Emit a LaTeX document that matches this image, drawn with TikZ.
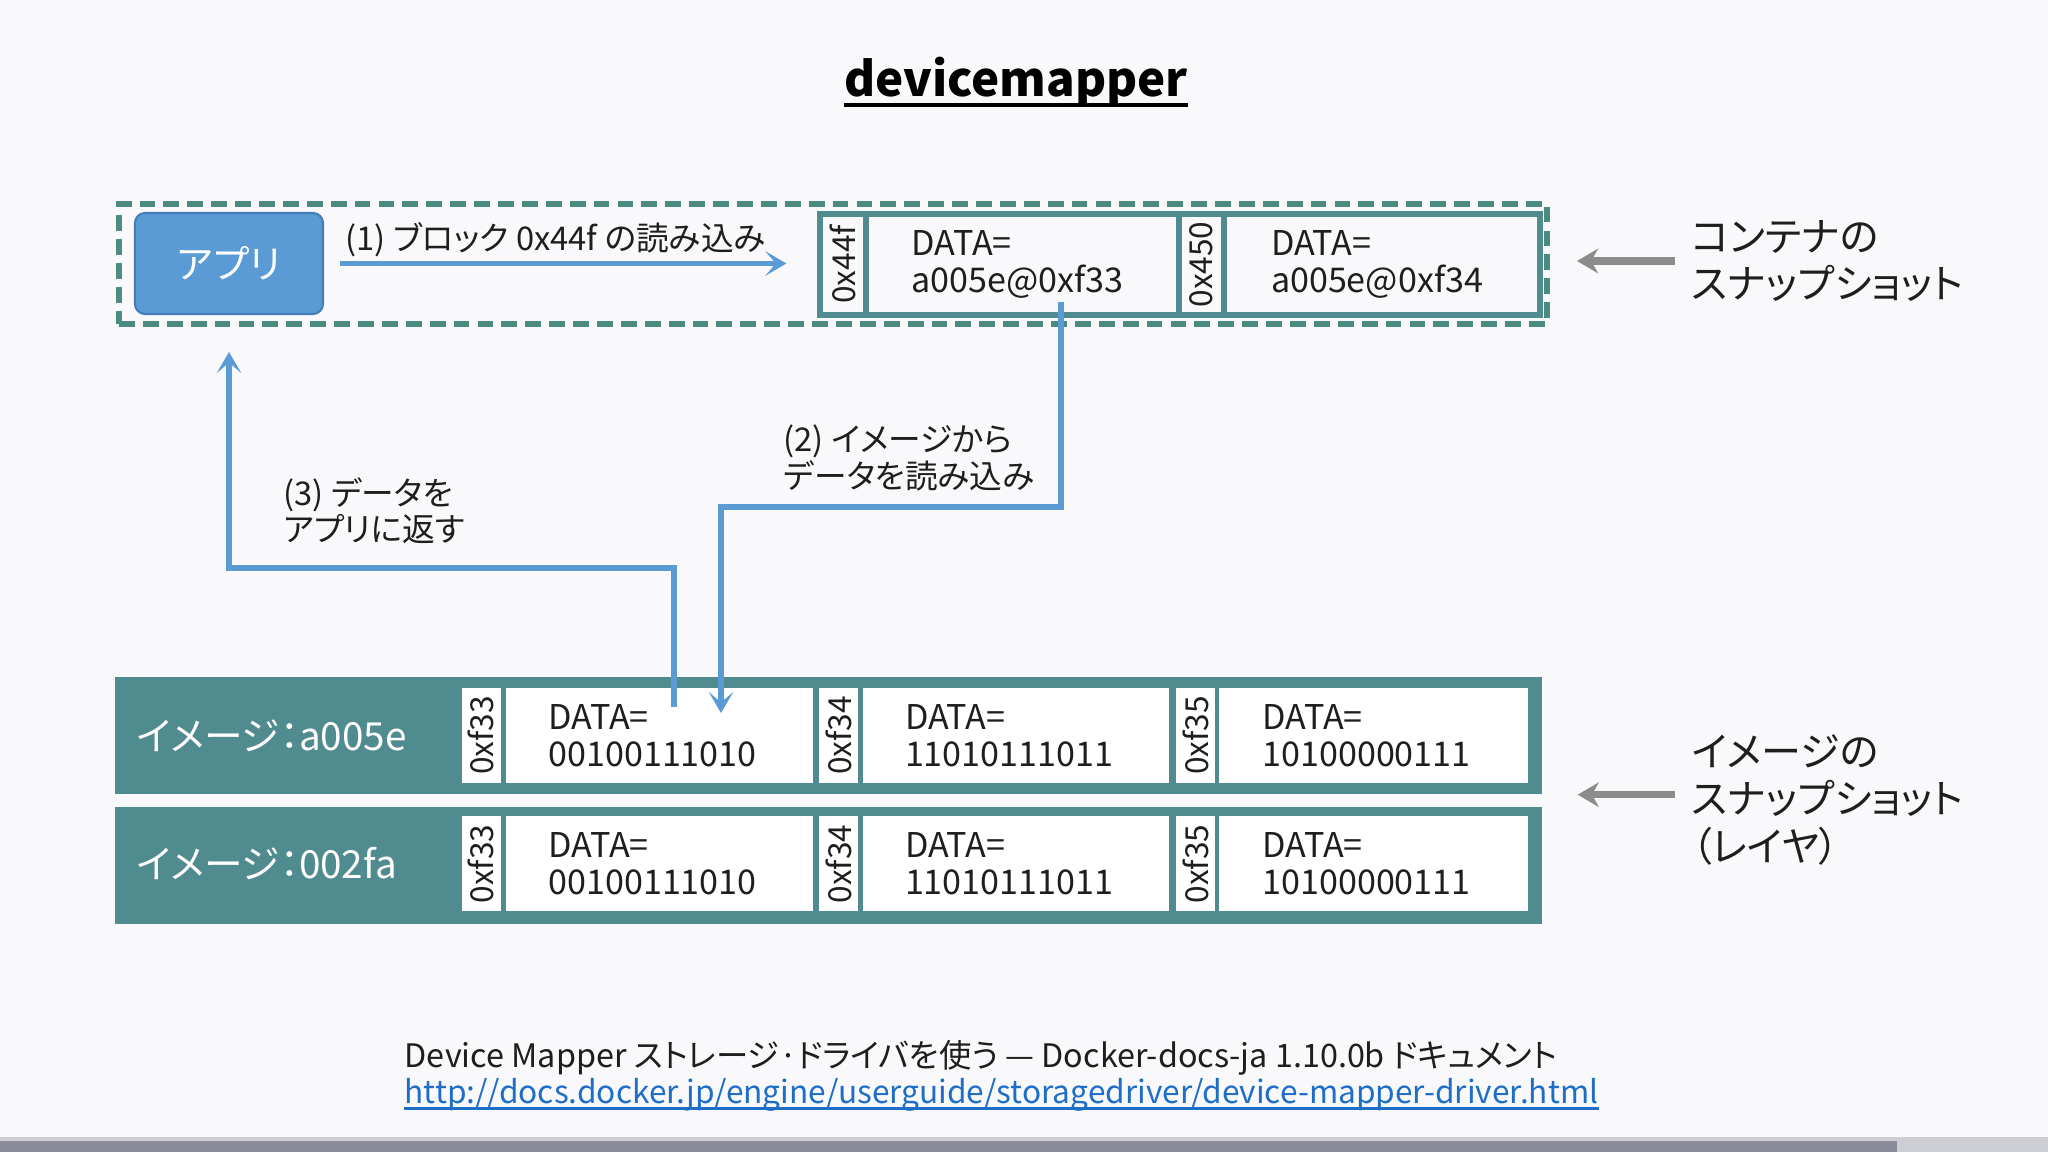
\documentclass[tikz,border=0pt]{standalone}
\usepackage{fontspec}
\setmainfont{Noto Sans CJK JP}[RawFeature=+palt]
\usetikzlibrary{arrows.meta, positioning}

\definecolor{bgc}{RGB}{249,249,251}
\definecolor{tealrow}{RGB}{80,139,143}
\definecolor{tealdash}{RGB}{76,140,128}
\definecolor{appblue}{RGB}{91,155,213}
\definecolor{appedge}{RGB}{70,125,185}
\definecolor{linkblue}{RGB}{30,110,200}
\definecolor{txt}{RGB}{30,30,30}
\definecolor{bardark}{RGB}{138,138,152}
\definecolor{barlight}{RGB}{205,205,212}

\tikzset{
  addr/.style={rotate=90, inner sep=0pt, font=\fontsize{9}{10}\selectfont, text=txt},
  datacell/.style={inner sep=0pt, text width=22.2mm, align=left, font=\fontsize{9.7}{10.6}\selectfont, text=txt},
  cbord/.style={draw=tealrow, line width=1.5pt},
  icell/.style={fill=white, minimum height=9.5mm},
  imgrow/.style={fill=tealrow, inner sep=0pt, minimum width=142.7mm, minimum height=11.7mm},
  rowlabel/.style={anchor=west, inner sep=0pt, text=white, font=\fontsize{11}{13}\selectfont},
  note/.style={anchor=west, align=left, inner sep=0pt, text=txt, font=\fontsize{9.3}{10.3}\selectfont},
  snaplabel/.style={anchor=west, align=left, inner sep=0pt, text=txt, font=\fontsize{11.4}{13.4}\selectfont},
  flow/.style={draw=appblue, line width=1.6pt, -{Stealth[length=6pt,width=7pt,inset=3pt]}},
  snap/.style={draw=gray!90, line width=2pt, -{Stealth[length=6pt,width=7pt]}},
}

\begin{document}
\begin{tikzpicture}[x=0.1mm, y=-0.1mm]
  \fill[bgc] (0,0) rectangle (2048,1152);
  \useasboundingbox (0,0) rectangle (2048,1152);

  \node[anchor=base, inner sep=0pt, font=\fontsize{13.5}{16}\selectfont\bfseries] (title) at (1016,97) {devicemapper};
  \draw[line width=1pt] ([yshift=-0.8mm]title.base west) -- ([yshift=-0.8mm]title.base east);

  % container snapshot
  \node[draw=tealdash, line width=1.7pt, dash pattern=on 4.5pt off 2.3pt, minimum width=142.8mm, minimum height=12mm] (cbox) at (833,264) {};
  \node[fill=appblue, draw=appedge, line width=0.6pt, rounded corners=1mm, minimum width=18.8mm, minimum height=10.1mm, text=white, font=\fontsize{11}{13}\selectfont] (app) at (229,263.5) {アプリ};
  \node[cbord, minimum width=72mm, minimum height=10.1mm] (crow) at (1180,264.5) {};
  \node[addr, cbord, minimum width=10.1mm, minimum height=4.6mm] (ca1) at (843,264.5) {0x44f};
  \node[datacell, cbord, minimum width=31.3mm, minimum height=10.1mm] (cd1) at (1022.5,264.5) {DATA=\\a005e@0xf33};
  \node[addr, cbord, minimum width=10.1mm, minimum height=4.5mm] (ca2) at (1201.5,264.5) {0x450};
  \node[datacell, cbord, minimum width=31.6mm, minimum height=10.1mm] (cd2) at (1382,264.5) {DATA=\\a005e@0xf34};

  % image layers
  \node[imgrow] (row1) at (828.5,735.5) {};
  \node[imgrow, below=1.2mm of row1] (row2) {};
  \node[rowlabel] (l1) at (136,735.5) {イメージ：a005e};
  \node[rowlabel] (l2) at (136,864) {イメージ：002fa};

  \node[addr, icell, minimum width=9.5mm, minimum height=3.9mm] (ia1) at (481,735.5) {0xf33};
  \node[datacell, icell, minimum width=30.7mm] (id1) at (659.5,735.5) {DATA=\\00100111010};
  \node[addr, icell, minimum width=9.5mm, minimum height=3.9mm] (ia2) at (838.5,735.5) {0xf34};
  \node[datacell, icell, minimum width=30.6mm] (id2) at (1016,735.5) {DATA=\\11010111011};
  \node[addr, icell, minimum width=9.5mm, minimum height=3.9mm] (ia3) at (1195.5,735.5) {0xf35};
  \node[datacell, icell, minimum width=30.9mm] (id3) at (1373.5,735.5) {DATA=\\10100000111};

  \node[addr, icell, minimum width=9.5mm, minimum height=3.9mm] (ib1) at (481,864) {0xf33};
  \node[datacell, icell, minimum width=30.7mm] (jd1) at (659.5,864) {DATA=\\00100111010};
  \node[addr, icell, minimum width=9.5mm, minimum height=3.9mm] (ib2) at (838.5,864) {0xf34};
  \node[datacell, icell, minimum width=30.6mm] (jd2) at (1016,864) {DATA=\\11010111011};
  \node[addr, icell, minimum width=9.5mm, minimum height=3.9mm] (ib3) at (1195.5,864) {0xf35};
  \node[datacell, icell, minimum width=30.9mm] (jd3) at (1373.5,864) {DATA=\\10100000111};

  % flow
  \node[note] (n1) at (345,240) {(1) ブロック 0x44f の読み込み};
  \node[note] (n2) at (783,458) {(2) イメージから\\データを読み込み};
  \node[note] (n3) at (283,511) {(3) データを\\アプリに返す};

  \coordinate (r2s) at (1061,302);
  \coordinate (r2m) at (890,507);
  \coordinate (r2e) at (721,713);
  \coordinate (r3s) at (674,707);
  \coordinate (r3m) at (450,568);

  \draw[flow, shorten <=1.6mm, shorten >=3.1mm] (app.east) -- (app.east -| crow.west);
  \draw[flow] (r2s) |- (r2m) -| (r2e);
  \draw[flow, shorten >=3.7mm] (r3s) |- (r3m) -| (app.south);

  % snapshots
  \node[snaplabel] (clab) at (1691,261) {コンテナの\\スナップショット};
  \node[snaplabel] (ilab) at (1691,800) {イメージの\\スナップショット\\（レイヤ）};
  \draw[snap, shorten <=1.6mm, shorten >=2.7mm] (clab.west) -- (clab.west -| cbox.east);
  \draw[snap, shorten <=1.6mm, shorten >=3.5mm] (ilab.west |- row1.south) -- (row1.south east);

  % source
  \node[anchor=base west, inner sep=0pt, text=txt, font=\fontsize{9.2}{11}\selectfont] (src) at (404,1068) {Device Mapper ストレージ·ドライバを使う — Docker-docs-ja 1.10.0b ドキュメント};
  \node[anchor=base west, inner sep=0pt, text=linkblue, font=\fontsize{9}{11}\selectfont] (url) at (404,1104) {http://docs.docker.jp/engine/userguide/storagedriver/device-mapper-driver.html};
  \draw[linkblue, line width=0.6pt] ([yshift=-0.45mm]url.base west) -- ([yshift=-0.45mm]url.base east);

  \fill[barlight] (0,1137) rectangle (2048,1152);
  \fill[bardark] (0,1141) rectangle (1897,1152);
\end{tikzpicture}
\end{document}
